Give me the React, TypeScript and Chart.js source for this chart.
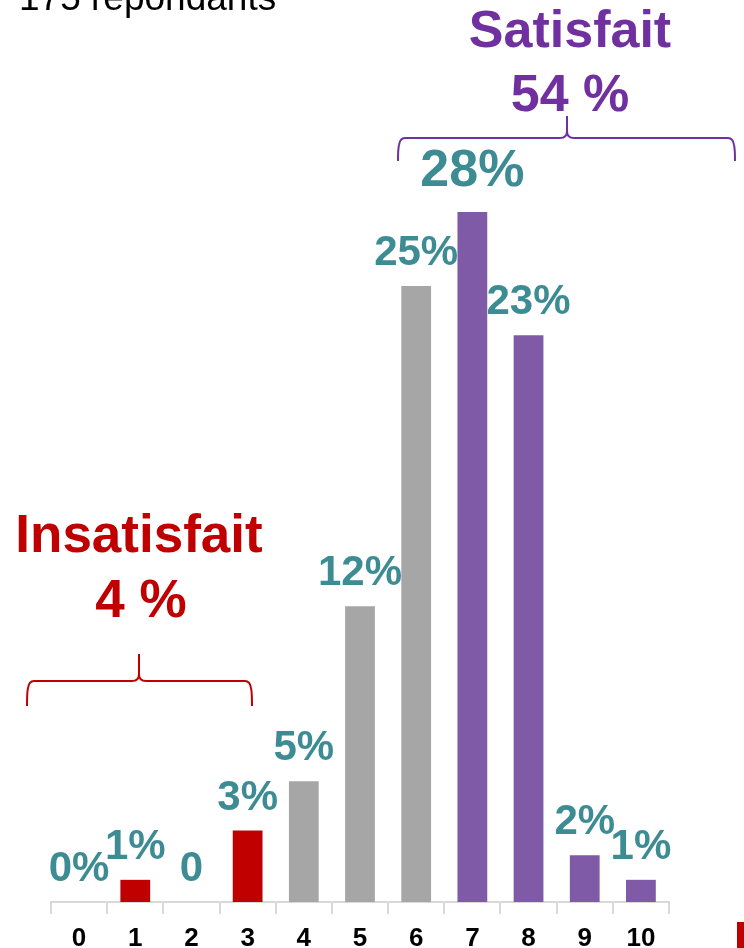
import React, { useEffect, useRef } from 'react';
import { Chart, registerables } from 'chart.js';

Chart.register(...registerables);

const categories = ['0', '1', '2', '3', '4', '5', '6', '7', '8', '9', '10'];
const values = [0, 0.9, 0, 2.9, 4.9, 12, 25, 28, 23, 1.9, 0.9];
const valueLabels = ['0%', '1%', '0', '3%', '5%', '12%', '25%', '28%', '23%', '2%', '1%'];
const groups = ['insat', 'insat', 'insat', 'insat', 'neutral', 'neutral', 'neutral', 'sat', 'sat', 'sat', 'sat'];
const respondentsText = '175 repondants';
const satTitle = 'Satisfait';
const satValue = '54 %';
const insatTitle = 'Insatisfait';
const insatValue = '4 %';

const FONT = '"Liberation Sans", Arial, Helvetica, sans-serif';
const RED = '#C00000';
const GRAY = '#A6A6A6';
const PURPLE_BAR = '#7F5AA6';
const PURPLE_TEXT = '#7030A0';
const TEAL = '#3D8C94';

const groupColor: Record<string, string> = { insat: RED, neutral: GRAY, sat: PURPLE_BAR };

function drawBrace(ctx: CanvasRenderingContext2D, left: number, right: number, tip: number, top: number, mid: number, bottom: number, color: string) {
  const r = 7;
  ctx.save();
  ctx.strokeStyle = color;
  ctx.lineWidth = 2;
  ctx.beginPath();
  ctx.moveTo(left, bottom);
  ctx.quadraticCurveTo(left, mid + r * 1.5, left + 1, mid + r);
  ctx.quadraticCurveTo(left + 2, mid, left + r, mid);
  ctx.lineTo(tip - r, mid);
  ctx.quadraticCurveTo(tip, mid, tip, mid - r);
  ctx.lineTo(tip, top);
  ctx.moveTo(tip, mid - r);
  ctx.quadraticCurveTo(tip, mid, tip + r, mid);
  ctx.lineTo(right - r, mid);
  ctx.quadraticCurveTo(right - 2, mid, right - 1, mid + r);
  ctx.quadraticCurveTo(right, mid + r * 1.5, right, bottom);
  ctx.stroke();
  ctx.restore();
}

const overlayPlugin = {
  id: 'overlay',
  afterDatasetsDraw(chart: any) {
    const ctx: CanvasRenderingContext2D = chart.ctx;
    const meta = chart.getDatasetMeta(0);
    const maxVal = Math.max(...values);
    ctx.save();
    ctx.textAlign = 'center';
    ctx.textBaseline = 'alphabetic';
    meta.data.forEach((bar: any, i: number) => {
      const size = values[i] === maxVal ? 52 : 42;
      ctx.font = `bold ${size}px ${FONT}`;
      ctx.fillStyle = TEAL;
      ctx.fillText(valueLabels[i], bar.x, bar.y - size * 0.5);
    });

    // respondents text
    ctx.textAlign = 'left';
    ctx.fillStyle = '#000000';
    ctx.font = `37px ${FONT}`;
    ctx.fillText(respondentsText, 19, 10);

    // Satisfait annotation
    ctx.textAlign = 'center';
    ctx.fillStyle = PURPLE_TEXT;
    ctx.font = `bold 52px ${FONT}`;
    ctx.fillText(satTitle, 570, 47);
    ctx.fillText(satValue, 570, 111);
    drawBrace(ctx, 398, 735, 567, 116, 138, 161, PURPLE_TEXT);

    // Insatisfait annotation
    ctx.fillStyle = RED;
    ctx.font = `bold 53px ${FONT}`;
    ctx.fillText(insatTitle, 139, 552);
    ctx.fillText(insatValue, 141, 617);
    drawBrace(ctx, 27, 252, 139, 654, 681, 706, RED);

    // partial legend swatch at bottom right
    ctx.fillStyle = RED;
    ctx.fillRect(737, 922, 10, 30);
    ctx.restore();
  },
};

export default function App() {
  const ref = useRef<HTMLCanvasElement>(null);
  useEffect(() => {
    document.body.style.margin = '0';
    const chart = new Chart(ref.current as HTMLCanvasElement, {
      type: 'bar',
      data: {
        labels: categories,
        datasets: [
          {
            data: values,
            backgroundColor: groups.map((g) => groupColor[g]),
            borderWidth: 0,
            barPercentage: 0.53,
            categoryPercentage: 1,
          },
        ],
      },
      options: {
        responsive: false,
        animation: false,
        devicePixelRatio: 1,
        layout: { padding: { left: 51, right: 75, top: 0, bottom: 0 } },
        plugins: { legend: { display: false }, tooltip: { enabled: false } },
        scales: {
          x: {
            grid: {
              drawOnChartArea: false,
              drawTicks: true,
              tickLength: 12,
              color: '#D9D9D9',
              lineWidth: 2,
              offset: true,
            },
            border: { display: true, color: '#D9D9D9', width: 2 },
            ticks: {
              color: '#000000',
              font: { family: FONT, size: 26, weight: 'bold' },
              padding: 9,
              maxRotation: 0,
              autoSkip: false,
            },
            afterFit: (scale: any) => {
              scale.height = 46;
            },
          },
          y: { display: false, min: 0, max: 36.6 },
        },
      },
      plugins: [overlayPlugin],
    } as any);
    return () => chart.destroy();
  }, []);
  return (
    <div style={{ position: 'absolute', left: 0, top: 0, width: 744, height: 948 }}>
      <canvas ref={ref} width={744} height={948} style={{ display: 'block' }} />
    </div>
  );
}
